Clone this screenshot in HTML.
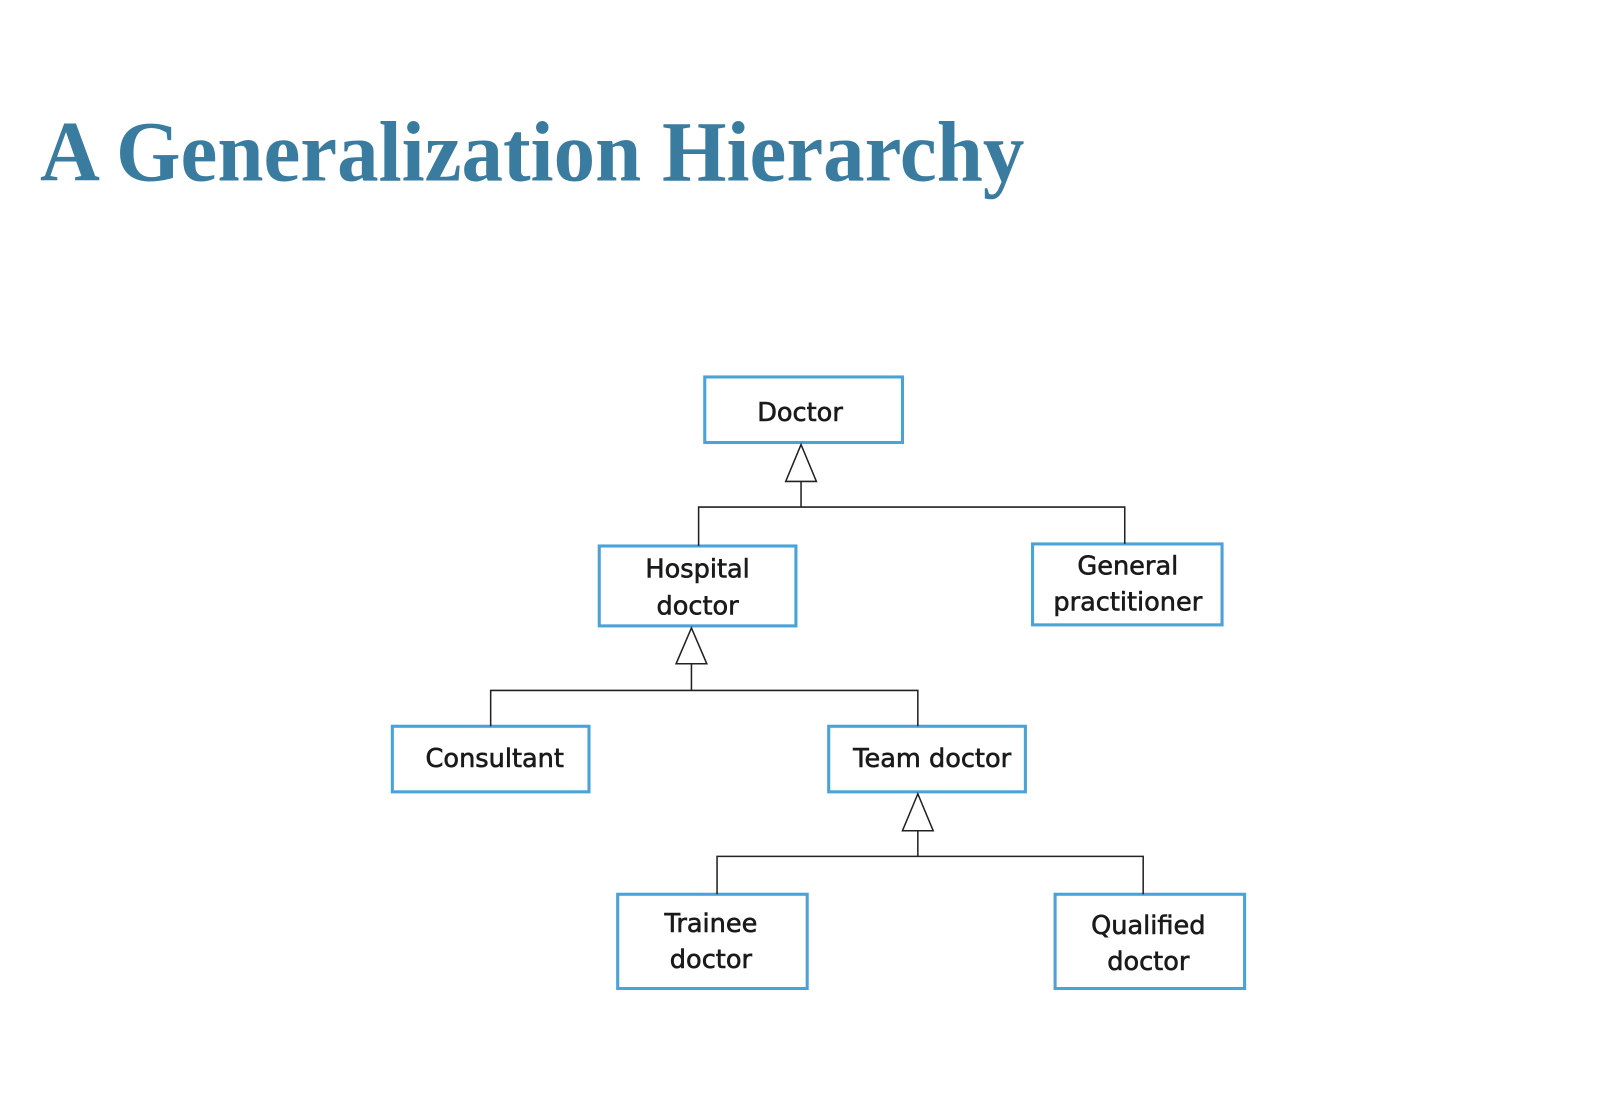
<!DOCTYPE html>
<html><head><meta charset="utf-8"><style>html,body{margin:0;padding:0;background:#fff}svg{display:block}</style></head>
<body>
<svg width="1598" height="1110" viewBox="3 2 1560 1083.6" xmlns="http://www.w3.org/2000/svg">
<text x="42" y="178" font-family="Liberation Serif, serif" font-weight="bold" font-size="84" fill="#3a7ca0" textLength="961" lengthAdjust="spacingAndGlyphs">A Generalization Hierarchy</text>
<g fill="#fff" stroke="#4aa3d8" stroke-width="3">
<rect x="691" y="370" width="193" height="64"/>
<rect x="588" y="535" width="192" height="78"/>
<rect x="1011" y="533" width="185" height="79"/>
<rect x="386" y="711" width="192" height="64"/>
<rect x="812" y="711" width="192" height="64"/>
<rect x="606" y="875" width="185" height="92"/>
<rect x="1033" y="875" width="185" height="92"/>
</g>
<g fill="none" stroke="#222" stroke-width="1.5">
<polygon points="785,436 770,472 800,472" fill="#fff"/>
<polyline points="785,472 785,497"/>
<polyline points="685,535 685,497 1101,497 1101,533"/>
<polygon points="678,615 663,650 693,650" fill="#fff"/>
<polyline points="678,650 678,676"/>
<polyline points="482,711 482,676 899,676 899,711"/>
<polygon points="899,777 884,813 914,813" fill="#fff"/>
<polyline points="899,813 899,838"/>
<polyline points="703,875 703,838 1119,838 1119,875"/>
</g>
<g font-family="DejaVu Sans, Liberation Sans, sans-serif" font-size="25" fill="#1a1a1a" stroke="#1a1a1a" stroke-width="0.6" text-anchor="middle">
<text x="784" y="413">Doctor</text>
<text x="684" y="566">Hospital</text>
<text x="684" y="602">doctor</text>
<text x="1104" y="563">General</text>
<text x="1104" y="598">practitioner</text>
<text x="486" y="751">Consultant</text>
<text x="913" y="751">Team doctor</text>
<text x="697" y="912">Trainee</text>
<text x="697" y="947">doctor</text>
<text x="1124" y="914">Qualified</text>
<text x="1124" y="949">doctor</text>
</g>
</svg>
</body></html>
